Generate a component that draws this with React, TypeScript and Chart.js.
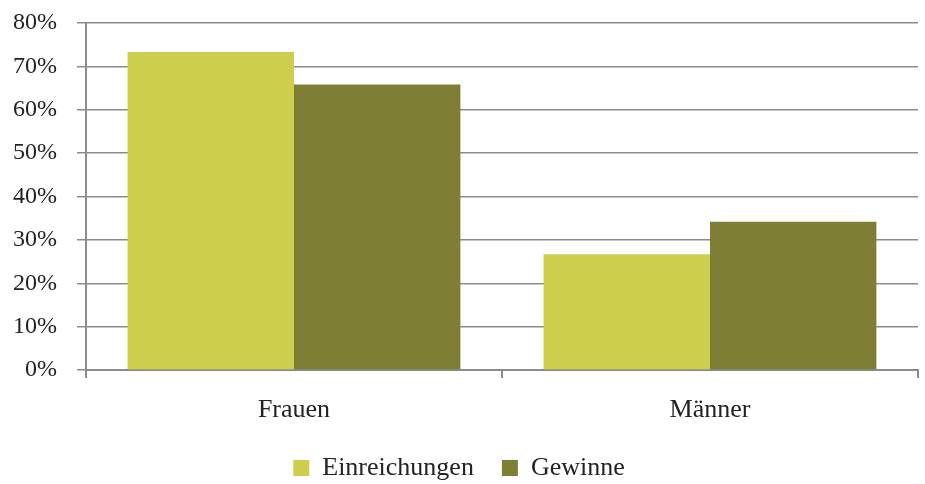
import React, { useEffect, useRef } from "react";
import { Chart, registerables } from "chart.js";

Chart.register(...registerables);

const categories = ["Frauen", "Männer"];
const seriesNames = ["Einreichungen", "Gewinne"];
const einreichungen = [73.3, 26.7];
const gewinne = [65.8, 34.2];
const yTicks = [0, 10, 20, 30, 40, 50, 60, 70, 80];

const FONT = "'Liberation Serif', 'DejaVu Serif', serif";
const GRID = "#8c8c8c";

export default function App() {
  const ref = useRef<HTMLCanvasElement | null>(null);
  useEffect(() => {
    if (!ref.current) return;
    const chart = new Chart(ref.current, {
      type: "bar",
      data: {
        labels: categories,
        datasets: [
          { label: seriesNames[0], data: einreichungen, backgroundColor: "#cdcd4e" },
          { label: seriesNames[1], data: gewinne, backgroundColor: "#7e7e34" },
        ],
      },
      options: {
        animation: false,
        responsive: true,
        maintainAspectRatio: false,
        layout: { padding: { top: 23, right: 7, left: 0, bottom: 0 } },
        datasets: { bar: { categoryPercentage: 0.8, barPercentage: 1.0 } },
        plugins: {
          tooltip: { enabled: false },
          legend: {
            position: "bottom",
            maxHeight: 57,
            labels: {
              boxWidth: 16,
              boxHeight: 16,
              padding: 28,
              color: "#222",
              font: { family: FONT, size: 26 },
            },
          },
        },
        scales: {
          x: {
            afterFit: (s: any) => {
              s.height = 57;
            },
            grid: {
              drawOnChartArea: false,
              drawTicks: true,
              tickLength: 8,
              color: GRID,
              lineWidth: 2,
            },
            border: { color: GRID, width: 2 },
            ticks: { color: "#222", padding: 17, font: { family: FONT, size: 26 } },
          },
          y: {
            min: 0,
            max: 80,
            afterFit: (s: any) => {
              s.width = 86;
              s.paddingTop = 0;
              s.paddingBottom = 0;
            },
            afterBuildTicks: (s: any) => {
              s.ticks = yTicks.map((v) => ({ value: v }));
            },
            grid: { color: GRID, lineWidth: 1.5, tickLength: 9 },
            border: { color: GRID, width: 2 },
            ticks: {
              color: "#222",
              padding: 20,
              font: { family: FONT, size: 24 },
              callback: (v: any) => v + "%",
            },
          },
        },
      },
    });
    return () => chart.destroy();
  }, []);
  return (
    <div style={{ position: "fixed", left: 0, top: 0, width: 925, height: 484, background: "#fff" }}>
      <canvas ref={ref} />
    </div>
  );
}
